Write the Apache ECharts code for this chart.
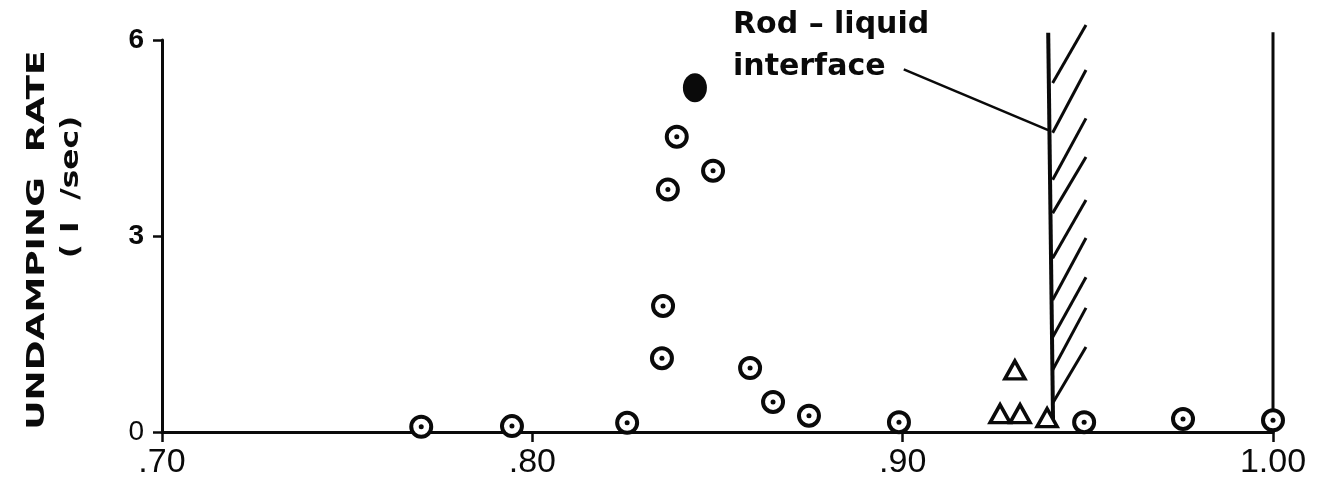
<!DOCTYPE html>
<html>
<head>
<meta charset="utf-8">
<script src="https://cdn.jsdelivr.net/npm/echarts@6/dist/echarts.min.js"></script>
<style>html,body{margin:0;padding:0;background:#fff;}#c{width:1336px;height:493px;}</style>
</head>
<body>
<div id="c"></div>
<script>
// ---- data ----
const xTickLabels = ['.70', '.80', '.90', '1.00'];
const yTickLabels = ['0', '3', '6'];
const ringPoints = [
  [0.770, 0.08], [0.7945, 0.09], [0.8256, 0.14], [0.835, 1.13], [0.8353, 1.93],
  [0.8366, 3.71], [0.839, 4.52], [0.8488, 4.0], [0.8588, 0.98], [0.865, 0.46],
  [0.8747, 0.25], [0.899, 0.15], [0.949, 0.15], [0.9757, 0.2], [1.00, 0.18]
];
const filledPoints = [[0.8439, 5.27]];
const trianglePoints = [[0.9263, 0.28], [0.9317, 0.28], [0.939, 0.22], [0.9303, 0.95]];
const interfaceLine = [[0.9406, 0.2], [0.9393, 6.11]];
const outerWallLine = [[1.00, 0.18], [1.00, 6.12]];
const leaderLine = [[0.9003, 5.55], [0.9393, 4.62]];
const hatchBottomY = [5.34, 4.58, 3.86, 3.35, 2.66, 2.02, 1.45, 0.95, 0.44];
const hatchTopY = [6.23, 5.54, 4.80, 4.21, 3.55, 2.97, 2.37, 1.90, 1.30];
const hatchX = [0.9405, 0.9495];

const chart = echarts.init(document.getElementById('c'), null, {renderer: 'canvas'});
const ink = '#0a0a0a';
const hatchData = hatchBottomY.map((b, i) => ({coords: [[hatchX[0], b], [hatchX[1], hatchTopY[i]]]}));

chart.setOption({
  backgroundColor: '#fff',
  animation: false,
  grid: {left: 162, right: 63, top: 40, bottom: 61, containLabel: false},
  xAxis: {
    type: 'value', min: 0.7, max: 1.0, interval: 0.1,
    axisLine: {show: true, lineStyle: {color: ink, width: 3}},
    axisTick: {show: true, inside: false, length: 10, lineStyle: {color: ink, width: 2.5}},
    splitLine: {show: false},
    axisLabel: {
      margin: 14, color: ink, fontFamily: 'Liberation Sans', fontSize: 34,
      formatter: v => xTickLabels[Math.round((v - 0.7) / 0.1)]
    }
  },
  yAxis: {
    type: 'value', min: 0, max: 6, interval: 3,
    axisLine: {show: true, lineStyle: {color: ink, width: 3}},
    axisTick: {show: true, inside: false, length: 9, lineStyle: {color: ink, width: 2.5}},
    splitLine: {show: false},
    axisLabel: {
      margin: 18, color: ink, fontFamily: 'Liberation Sans', fontWeight: 'bold', fontSize: 28,
      formatter: v => {
        const t = yTickLabels[Math.round(v / 3)];
        return v === 0 ? '{z|' + t + '}' : t;
      },
      rich: {z: {fontFamily: 'Liberation Sans', fontWeight: 'normal', fontSize: 28, color: ink}}
    }
  },
  series: [
    {type: 'lines', coordinateSystem: 'cartesian2d', polyline: false, silent: true, clip: false,
     lineStyle: {color: ink, width: 3, opacity: 1}, data: hatchData, z: 1},
    {type: 'line', data: interfaceLine, symbol: 'none', clip: false, lineStyle: {color: ink, width: 4}, z: 1},
    {type: 'line', data: outerWallLine, symbol: 'none', clip: false, lineStyle: {color: ink, width: 3}, z: 1},
    {type: 'line', data: leaderLine, symbol: 'none', clip: false, lineStyle: {color: ink, width: 2.5}, z: 1},
    {type: 'scatter', data: ringPoints, symbol: 'circle', symbolSize: 20,
     itemStyle: {color: '#fff', borderColor: ink, borderWidth: 4, opacity: 1}, z: 3},
    {type: 'scatter', data: ringPoints, symbol: 'circle', symbolSize: 5,
     itemStyle: {color: ink, opacity: 1}, z: 4},
    {type: 'scatter', data: filledPoints, symbol: 'circle', symbolSize: [24, 29],
     itemStyle: {color: ink, opacity: 1}, z: 3},
    {type: 'scatter', data: trianglePoints, symbol: 'triangle', symbolSize: [20, 18],
     itemStyle: {color: '#fff', borderColor: ink, borderWidth: 3.5, opacity: 1}, z: 3}
  ],
  graphic: [
    {type: 'text', left: 733, top: 10, style: {text: 'Rod – liquid', font: 'bold 30px "DejaVu Sans"', fill: ink}},
    {type: 'text', left: 733, top: 52, style: {text: 'interface', font: 'bold 30px "DejaVu Sans"', fill: ink}},
    {type: 'text', x: 37, y: 240, rotation: Math.PI / 2, scaleX: 1.5, scaleY: 1.05,
     style: {text: 'UNDAMPING  RATE', font: 'bold 24px "DejaVu Sans"', fill: ink, align: 'center', verticalAlign: 'middle'}},
    {type: 'text', x: 72, y: 187, rotation: Math.PI / 2, scaleX: 1.3, scaleY: 1,
     style: {text: '( I  /sec)', font: 'bold 24px "DejaVu Sans"', fill: ink, align: 'center', verticalAlign: 'middle'}}
  ]
});
</script>
</body>
</html>
